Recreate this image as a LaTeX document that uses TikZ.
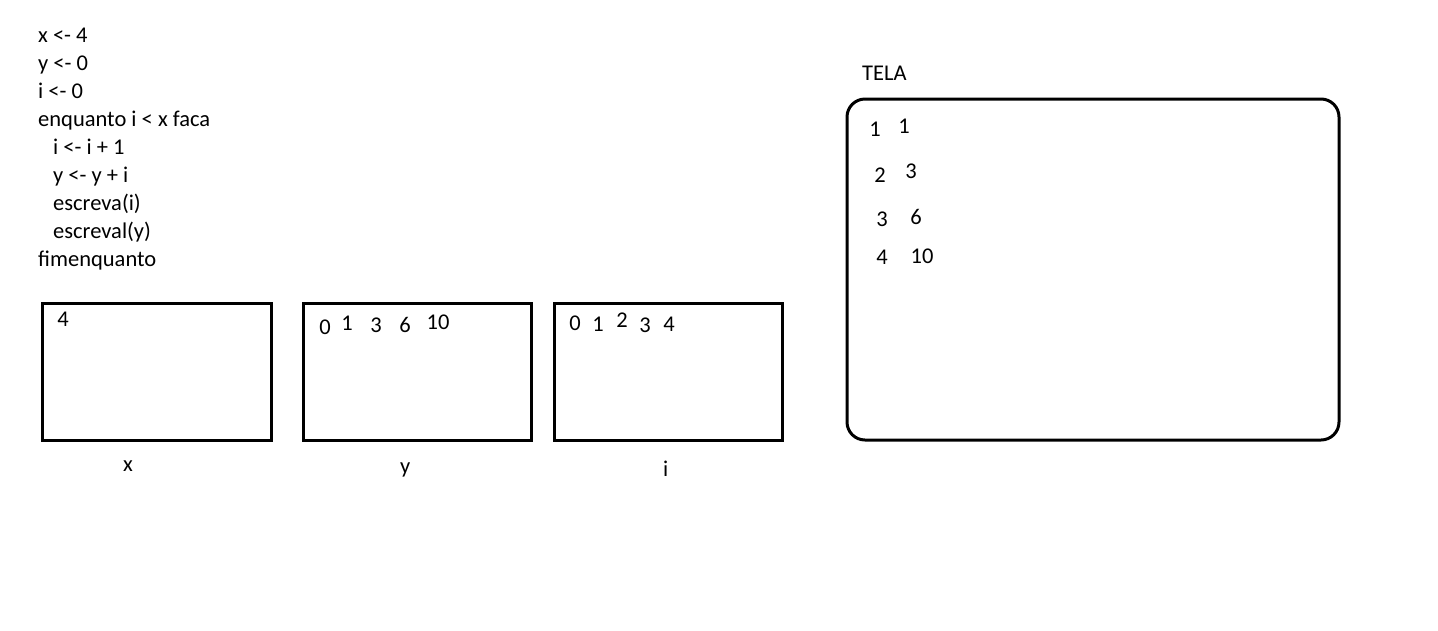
\documentclass[tikz,border=0pt]{standalone}
\usepackage{fontspec}
\setmainfont{Carlito}
\begin{document}
\begin{tikzpicture}[x=1pt,y=-1pt,
  every node/.style={inner sep=0pt,font=\fontsize{22.5}{26}\selectfont},
  code/.style={anchor=base west},
  val/.style={anchor=center},
  varbox/.style={draw,line width=3pt},
  screen/.style={draw,line width=3pt,rounded corners=18pt}]
\useasboundingbox (0,0) rectangle (1438,630);
% code
\node[code] (c1) at (38,42) {x <- 4};
\node[code] (c2) at (38,70) {y <- 0};
\node[code] (c3) at (38,98) {i <- 0};
\node[code] (c4) at (38,126) {enquanto i < x faca};
\node[code] (c5) at (53,154) {i <- i + 1};
\node[code] (c6) at (53,182) {y <- y + i};
\node[code] (c7) at (53,210) {escreva(i)};
\node[code] (c8) at (53,238) {escreval(y)};
\node[code] (c9) at (38,266) {fimenquanto};
% variable boxes
\draw[varbox] (42,303) rectangle (271,440);
\draw[varbox] (303,303) rectangle (531,440);
\draw[varbox] (554,303) rectangle (782,440);
\node[code] (lx) at (123,471) {x};
\node[code] (ly) at (400,473) {y};
\node[code] (li) at (663,476) {i};
% contents
\node[val] (x4) at (63,319) {4};
\node[val] (y0) at (325,327) {0};
\node[val] (y1) at (347,323) {1};
\node[val] (y3) at (376,325) {3};
\node[val] (y6) at (405,325) {6};
\node[val] (y10) at (438,322) {10};
\node[val] (i0) at (575,323) {0};
\node[val] (i1) at (598,324) {1};
\node[val] (i2) at (622,320) {2};
\node[val] (i3) at (645,325) {3};
\node[val] (i4) at (669,324) {4};
% screen
\node[code] (tela) at (862,80) {TELA};
\draw[screen] (847,99) rectangle (1339,440);
\node[val] (t1a) at (875,129) {1};
\node[val] (t1b) at (904,126) {1};
\node[val] (t2a) at (880,175) {2};
\node[val] (t2b) at (911,171) {3};
\node[val] (t3a) at (882,219) {3};
\node[val] (t3b) at (916,217) {6};
\node[val] (t4a) at (882,257) {4};
\node[val] (t4b) at (922,256) {10};
\end{tikzpicture}
\end{document}
